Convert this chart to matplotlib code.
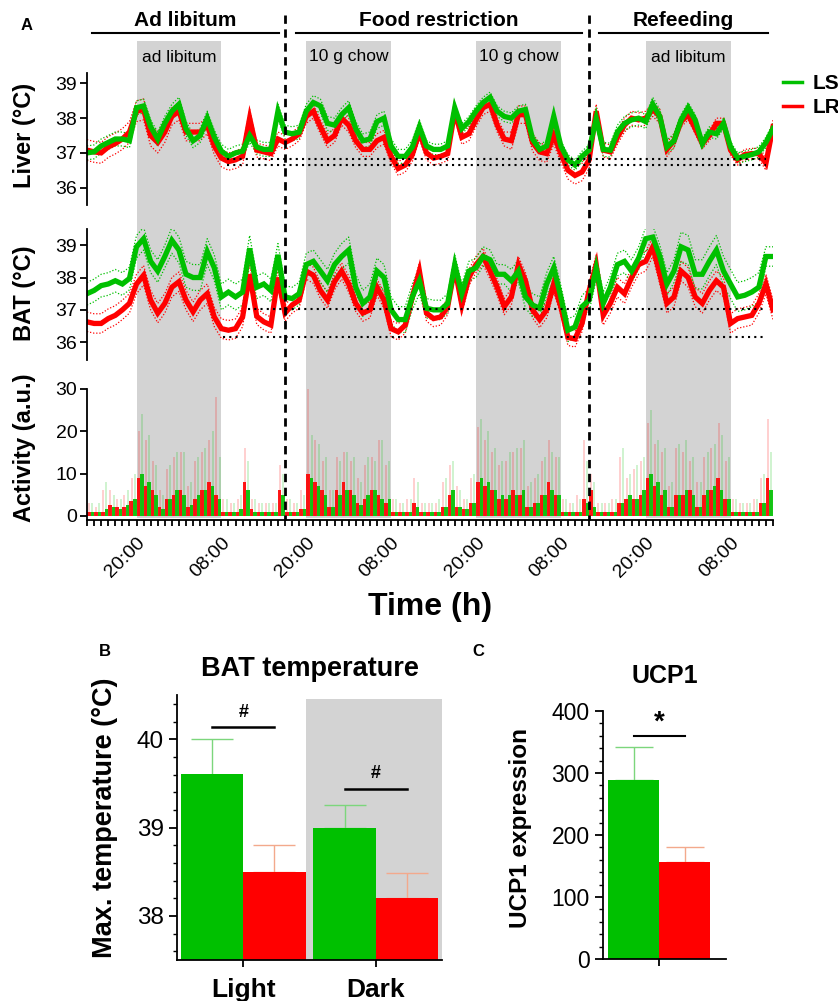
import numpy as np
import matplotlib
matplotlib.use('Agg')
import matplotlib.pyplot as plt
from matplotlib.ticker import MultipleLocator
from matplotlib.lines import Line2D

plt.rcParams['font.family'] = ['Liberation Sans', 'DejaVu Sans']

GREEN = '#00c000'
RED = '#ff0000'
GRAY = '#d3d3d3'
GREEN_ERR = '#7cd67c'
RED_ERR = '#f3a98c'

# ---------------- data: panel A (hourly, t=0 is 13:00 on day 1) ----------------
hours = np.arange(98)
liver_LS = [37.0, 37.03, 37.2, 37.3, 37.4, 37.4, 37.35, 38.3, 38.35, 37.75, 37.4, 37.85,
            38.2, 38.4, 37.7, 37.35, 37.5, 38.0, 37.45, 37.05, 36.9, 37.0, 37.05, 37.5,
            37.17, 37.1, 37.1, 38.2, 37.6, 37.55, 37.6, 38.2, 38.45, 38.35, 37.85, 37.8,
            38.1, 38.3, 37.7, 37.35, 37.4, 37.9, 38.0, 37.2, 36.9, 36.9, 37.17, 37.75,
            37.2, 37.1, 37.1, 37.2, 38.3, 37.7, 37.9, 38.2, 38.45, 38.6, 38.2, 38.05,
            38.0, 38.2, 38.25, 37.4, 37.1, 37.2, 38.05, 37.2, 36.8, 36.65, 36.9, 37.08,
            38.0, 37.1, 37.08, 37.6, 37.85, 37.95, 38.0, 37.9, 38.4, 38.05, 37.17, 37.35,
            37.95, 38.3, 37.95, 37.27, 37.6, 37.55, 37.85, 37.17, 36.85, 36.9, 36.95, 37.03,
            37.3, 37.7]
liver_LR = [37.08, 37.03, 37.0, 37.17, 37.27, 37.4, 37.6, 38.2, 38.25, 37.5, 37.3, 37.6,
            38.05, 38.2, 37.6, 37.6, 37.6, 37.8, 37.2, 36.85, 36.75, 36.8, 36.9, 38.0,
            37.08, 37.03, 36.98, 37.4, 37.3, 37.4, 37.55, 38.05, 38.2, 37.75, 37.35, 37.5,
            38.0, 37.8, 37.35, 37.1, 37.1, 37.35, 37.45, 36.9, 36.55, 36.65, 36.95, 37.6,
            37.0, 36.85, 36.9, 36.98, 38.2, 37.45, 37.55, 37.95, 38.3, 38.4, 37.8, 37.4,
            37.35, 38.1, 38.1, 37.3, 37.03, 36.98, 37.5, 36.98, 36.5, 36.35, 36.45, 36.8,
            38.2, 37.08, 37.03, 37.45, 37.8, 38.0, 37.95, 38.0, 38.25, 38.05, 37.1, 37.35,
            37.9, 38.1, 37.7, 37.27, 37.5, 37.85, 37.85, 37.08, 36.8, 36.95, 36.98, 36.98,
            36.7, 37.75]
bat_LS = [37.5, 37.6, 37.75, 37.8, 37.9, 37.8, 37.97, 38.95, 39.2, 38.5, 38.2, 38.65,
          39.15, 38.85, 38.1, 38.0, 38.0, 38.8, 38.3, 37.4, 37.55, 37.4, 37.55, 38.9,
          37.7, 37.8, 37.6, 38.7, 37.4, 37.35, 37.5, 38.4, 38.5, 38.2, 37.9, 38.4,
          38.65, 38.85, 37.7, 37.2, 37.4, 38.2, 38.0, 37.0, 36.7, 36.7, 37.4, 37.9,
          37.05, 37.0, 37.0, 37.2, 38.4, 37.5, 38.2, 38.3, 38.65, 38.55, 38.1, 38.1,
          37.9, 38.2, 37.4, 37.15, 37.05, 37.8, 38.3, 37.4, 36.37, 36.47, 37.1, 37.3,
          38.3, 37.2, 37.7, 38.4, 38.5, 38.2, 38.6, 39.2, 39.25, 38.65, 37.8, 38.2,
          38.95, 38.85, 38.1, 38.1, 38.5, 38.85, 38.2, 37.8, 37.4, 37.45, 37.55, 37.7,
          38.65, 38.65]
bat_LR = [36.63, 36.58, 36.58, 36.73, 36.83, 37.0, 37.2, 37.8, 38.07, 37.3, 36.9, 37.2,
          37.7, 37.87, 37.3, 36.94, 37.3, 37.5, 36.78, 36.42, 36.37, 36.42, 36.78, 38.1,
          36.8, 36.63, 36.53, 38.0, 36.9, 37.15, 37.3, 38.2, 38.07, 37.6, 37.3, 37.87,
          38.2, 37.8, 37.2, 36.9, 37.0, 37.7, 37.3, 36.42, 36.32, 36.53, 37.4, 38.2,
          36.9, 36.73, 36.78, 37.1, 38.3, 37.15, 38.0, 38.4, 38.65, 38.2, 37.7, 37.1,
          37.4, 38.4, 37.9, 37.0, 36.7, 37.0, 37.8, 37.1, 36.15, 36.1, 36.58, 37.6,
          38.4, 36.83, 37.2, 37.7, 37.5, 38.0, 38.4, 38.5, 38.95, 38.1, 37.2, 37.4,
          38.2, 38.0, 37.4, 37.2, 37.6, 37.9, 37.7, 36.58, 36.73, 36.78, 36.83, 37.2,
          37.8, 37.0]
# SEM read per 12-hour block
liver_LS_sem = [0.2, 0.2, 0.2, 0.2, 0.15, 0.15, 0.2, 0.15, 0.15]
liver_LR_sem = [0.3, 0.25, 0.2, 0.2, 0.2, 0.25, 0.2, 0.15, 0.2]
bat_LS_sem = [0.35, 0.4, 0.35, 0.4, 0.3, 0.35, 0.35, 0.45, 0.3]
bat_LR_sem = [0.3, 0.3, 0.25, 0.25, 0.25, 0.25, 0.3, 0.3, 0.3]

liver_ref = [36.83, 36.66]
liver_ref_start = [19.8, 19.8]
bat_ref = [37.03, 36.15]
bat_ref_start = [22.7, 19.2]
ref_end = 96.0

act_hours = np.arange(97)
act_LS = [1, 1, 1.5, 2, 1.5, 2.5, 4, 10, 8, 5, 1.5, 4, 6, 5, 2.5, 5, 6, 7, 4, 1, 1, 1.5, 6, 1,
          1, 1, 1, 5, 1, 1, 1.5, 9, 7, 5, 2, 5, 6, 5, 2.5, 5, 6, 4, 4, 1, 1, 1, 2, 1,
          1, 1, 2, 6, 2, 1.5, 3, 9, 8, 6, 5, 5, 5, 6, 2, 3, 5, 6, 5, 1, 1, 1, 3, 2,
          1, 1, 1, 3, 5, 4, 6, 10, 8, 6, 2, 5, 6, 5, 2, 6, 7, 6, 4, 1, 1, 1, 1, 3, 6]
act_LR = [1, 1, 1, 2.5, 2, 2, 3.5, 9, 7, 6, 2, 4, 5, 6, 2, 4, 6, 8, 5, 1, 1, 1, 8, 1.5,
          1, 1, 1, 6, 1, 1, 1.5, 10, 8, 6, 2, 6, 8, 6, 3, 4, 6, 5, 3, 1, 1, 1, 3, 1,
          1, 1, 2, 5, 2, 1.5, 3, 8, 7, 6, 4, 4, 6, 5, 2, 3, 5, 8, 5, 1, 1, 1, 4, 6,
          1, 1, 1, 3, 4, 4, 5, 9, 7, 5, 2, 5, 5, 6, 2, 5, 6, 9, 4, 1, 1, 1, 1, 3, 9]
act_LS_peak = [3, 3, 8, 5, 4, 6, 10, 24, 19, 12, 5, 12, 15, 15, 8, 14, 16, 20, 14, 4, 3, 5, 13, 4,
               3, 3, 3, 10, 4, 3, 5, 19, 17, 14, 6, 13, 15, 14, 8, 14, 13, 18, 13, 4, 3, 4, 8, 3,
               3, 4, 9, 13, 6, 4, 10, 23, 20, 16, 13, 15, 16, 18, 8, 10, 14, 15, 14, 4, 3, 4, 13, 8,
               3, 3, 4, 16, 10, 12, 14, 25, 18, 16, 8, 17, 18, 14, 8, 15, 17, 19, 14, 4, 3, 3, 4, 10, 15]
act_LR_peak = [3, 2, 6, 6, 4, 5, 9, 20, 18, 13, 6, 11, 14, 15, 7, 13, 15, 18, 28, 4, 3, 4, 16, 4,
               3, 3, 3, 12, 4, 3, 6, 30, 18, 13, 6, 14, 15, 13, 9, 12, 14, 18, 12, 4, 3, 4, 9, 3,
               3, 3, 8, 12, 7, 4, 9, 21, 18, 15, 12, 13, 15, 16, 7, 9, 13, 18, 14, 4, 3, 5, 18, 10,
               3, 3, 4, 14, 9, 11, 13, 22, 17, 15, 7, 16, 15, 13, 8, 14, 16, 22, 13, 4, 3, 3, 4, 9, 23]

dark_start = [7, 31, 55, 79]
dark_len = 12
dark_labels = ['ad libitum', '10 g chow', '10 g chow', 'ad libitum']
phase_bounds = [28, 71]
phase_names = ['Ad libitum', 'Food restriction', 'Refeeding']
phase_spans = [(0.7, 27.1), (29.6, 70.0), (72.4, 96.3)]
time_ticks = [7, 19, 31, 43, 55, 67, 79, 91]
time_labels = ['20:00', '08:00'] * 4

# ---------------- data: panels B and C ----------------
bat_periods = ['Light', 'Dark']
bat_max_LS = [39.6, 39.0]
bat_max_LS_err = [0.4, 0.25]
bat_max_LR = [38.5, 38.2]
bat_max_LR_err = [0.3, 0.28]
ucp1_LS = 288
ucp1_LS_err = 54
ucp1_LR = 156
ucp1_LR_err = 25

# ---------------- figure ----------------
W, H = 838, 1001
fig = plt.figure(figsize=(W / 100, H / 100), dpi=100)


def fax(x0, y0, x1, y1, **kw):
    """axes from pixel box (top-left origin)"""
    return fig.add_axes([x0 / W, 1 - y1 / H, (x1 - x0) / W, (y1 - y0) / H], **kw)


XL, XR = 87, 773
TMAX = 97

# background (gray dark-phase bands)
bg = fax(XL, 0, XR, 525)
bg.set_xlim(0, TMAX)
bg.set_ylim(525, 0)
bg.axis('off')
bg.set_zorder(0)
bg.bar(dark_start, 477, bottom=41, width=dark_len, align='edge', color=GRAY, lw=0)
for s, lab in zip(dark_start, dark_labels):
    bg.text(s + dark_len / 2, 57, lab, ha='center', va='center', fontsize=12.5)


def style_temp(ax, ylim, yticks):
    ax.set_xlim(0, TMAX)
    ax.set_ylim(*ylim)
    ax.set_yticks(yticks)
    ax.patch.set_alpha(0)
    for s in ['top', 'right', 'bottom']:
        ax.spines[s].set_visible(False)
    ax.spines['left'].set_linewidth(1.3)
    ax.set_xticks([])
    ax.tick_params(axis='y', labelsize=14, length=5, width=1.3, pad=2)


def sem_of(blocks):
    return np.repeat(blocks, 12)[:len(hours)]


def draw_temp(ax, ls, lr, ls_sem, lr_sem):
    for mean, sem, c in [(lr, lr_sem, RED), (ls, ls_sem, GREEN)]:
        mean = np.asarray(mean)
        s = sem_of(sem)
        ax.plot(hours, mean + s, ls=(0, (1, 1.5)), color=c, lw=0.9)
        ax.plot(hours, mean - s, ls=(0, (1, 1.5)), color=c, lw=0.9)
    for mean, c in [(lr, RED), (ls, GREEN)]:
        ax.plot(hours, mean, color=c, lw=3.8, solid_joinstyle='miter')


ax_l = fax(XL, 73, XR, 205)
ax_l.set_zorder(1)
style_temp(ax_l, (35.5, 39.3), [36, 37, 38, 39])
draw_temp(ax_l, liver_LS, liver_LR, liver_LS_sem, liver_LR_sem)
for v, st in zip(liver_ref, liver_ref_start):
    ax_l.plot([st, ref_end], [v, v], color='black', ls=(0, (1, 2)), lw=1.5)

ax_b = fax(XL, 229, XR, 360)
ax_b.set_zorder(1)
style_temp(ax_b, (35.45, 39.5), [36, 37, 38, 39])
draw_temp(ax_b, bat_LS, bat_LR, bat_LS_sem, bat_LR_sem)
for v, st in zip(bat_ref, bat_ref_start):
    ax_b.plot([st, ref_end], [v, v], color='black', ls=(0, (1, 2)), lw=1.5)

ax_a = fax(XL, 389, XR, 520)
ax_a.set_zorder(1)
ax_a.patch.set_alpha(0)
ax_a.set_xlim(0, TMAX)
ax_a.set_ylim(-1, 30)
ax_a.set_yticks([0, 10, 20, 30])
for s in ['top', 'right']:
    ax_a.spines[s].set_visible(False)
for s in ['left', 'bottom']:
    ax_a.spines[s].set_linewidth(1.3)
# faint spikes (peak activity) then interleaved hourly means
ax_a.vlines(act_hours + 0.3, 0, act_LR_peak, color=RED, alpha=0.22, lw=1.2)
ax_a.vlines(act_hours + 0.75, 0, act_LS_peak, color=GREEN, alpha=0.22, lw=1.2)
ax_a.bar(act_hours, act_LR, width=0.5, align='edge', color=RED, alpha=0.9, lw=0)
ax_a.bar(act_hours + 0.5, act_LS, width=0.5, align='edge', color=GREEN, alpha=0.9, lw=0)
ax_a.set_xticks(time_ticks)
ax_a.set_xticklabels(time_labels, rotation=45, ha='right', va='top',
                     rotation_mode='anchor', fontsize=14)
ax_a.xaxis.set_minor_locator(MultipleLocator(1))
ax_a.tick_params(axis='x', which='both', length=4, width=1.3, pad=6)
ax_a.tick_params(axis='y', labelsize=14, length=5, width=1.3, pad=2)

# overlay (dashed phase lines and phase headers)
ov = fax(XL, 0, XR, 525)
ov.set_xlim(0, TMAX)
ov.set_ylim(525, 0)
ov.axis('off')
ov.set_zorder(3)
ov.vlines(phase_bounds, 15, 520, colors='black', linestyles=(0, (3, 2)), lw=2)
for name, (a, b) in zip(phase_names, phase_spans):
    ov.plot([a, b], [33, 33], color='black', lw=1.5)
    ov.text((a + b) / 2, 20, name, ha='center', va='center', fontsize=15, fontweight='bold')

fig.text(27 / W, 1 - 26 / H, 'A', ha='center', va='center', fontsize=12, fontweight='bold')
fig.text(25 / W, 1 - 135 / H, 'Liver (°C)', rotation=90, ha='center', va='center',
         fontsize=17, fontweight='bold')
fig.text(25 / W, 1 - 293 / H, 'BAT (°C)', rotation=90, ha='center', va='center',
         fontsize=17, fontweight='bold')
fig.text(25 / W, 1 - 448 / H, 'Activity (a.u.)', rotation=90, ha='center', va='center',
         fontsize=17, fontweight='bold')
fig.text(430 / W, 1 - 607 / H, 'Time (h)', ha='center', va='center',
         fontsize=23, fontweight='bold')

handles = [Line2D([], [], color=GREEN, lw=2.5), Line2D([], [], color=RED, lw=2.5)]
fig.legend(handles, ['LS', 'LR'], loc='upper left', bbox_to_anchor=(783 / W, 1 - 74 / H),
           frameon=False, handlelength=0.9, handletextpad=0.5, labelspacing=0.25,
           prop={'weight': 'bold', 'size': 15}, borderpad=0, borderaxespad=0)

# ---------------- panel B ----------------
axB = fax(177, 695, 442, 960)
xb = np.arange(len(bat_periods))
bw = 0.47
axB.set_xlim(-0.5, 1.5)
axB.set_ylim(37.5, 40.5)
axB.axvspan(0.47, 1.5, ymax=0.985, color=GRAY, lw=0, zorder=0)
axB.bar(xb - bw / 2, np.array(bat_max_LS) - 37.5, bottom=37.5, width=bw, color=GREEN, zorder=2)
axB.bar(xb + bw / 2, np.array(bat_max_LR) - 37.5, bottom=37.5, width=bw, color=RED, zorder=2)
axB.errorbar(xb - bw / 2, bat_max_LS, yerr=[np.zeros(2), bat_max_LS_err], fmt='none',
             ecolor=GREEN_ERR, elinewidth=1, capsize=15, capthick=1, zorder=1)
axB.errorbar(xb + bw / 2, bat_max_LR, yerr=[np.zeros(2), bat_max_LR_err], fmt='none',
             ecolor=RED_ERR, elinewidth=1, capsize=15, capthick=1, zorder=1)
for i, (yl, yt) in enumerate([(40.14, 40.3), (39.44, 39.61)]):
    axB.plot([i - bw / 2, i + bw / 2], [yl, yl], color='black', lw=1.8)
    axB.text(i, yt, '#', ha='center', va='center', fontsize=13, fontweight='bold')
axB.set_xticks(xb)
axB.set_xticklabels(bat_periods, fontsize=19, fontweight='bold')
axB.set_yticks([38, 39, 40])
axB.yaxis.set_minor_locator(MultipleLocator(0.2))
for s in ['top', 'right']:
    axB.spines[s].set_visible(False)
for s in ['left', 'bottom']:
    axB.spines[s].set_linewidth(1.3)
axB.tick_params(axis='y', which='major', labelsize=17.5, length=6, width=1.3)
axB.tick_params(axis='y', which='minor', length=3, width=1)
axB.tick_params(axis='x', length=5, width=1.3, pad=8)
axB.set_title('BAT temperature', fontsize=19.5, fontweight='bold', pad=14)
fig.text(105 / W, 1 - 818 / H, 'Max. temperature (°C)', rotation=90, ha='center', va='center',
         fontsize=19.5, fontweight='bold')
fig.text(105 / W, 1 - 652 / H, 'B', ha='center', va='center', fontsize=12, fontweight='bold')

# ---------------- panel C ----------------
axC = fax(603, 711, 726, 959)
cw = 0.4
axC.set_xlim(-0.44, 0.525)
axC.set_ylim(0, 400)
axC.bar([-cw / 2], [ucp1_LS], width=cw, color=GREEN, zorder=2)
axC.bar([cw / 2], [ucp1_LR], width=cw, color=RED, zorder=2)
axC.errorbar([-cw / 2], [ucp1_LS], yerr=[[0], [ucp1_LS_err]], fmt='none', ecolor=GREEN_ERR,
             elinewidth=1, capsize=14, capthick=1, zorder=1)
axC.errorbar([cw / 2], [ucp1_LR], yerr=[[0], [ucp1_LR_err]], fmt='none', ecolor=RED_ERR,
             elinewidth=1, capsize=14, capthick=1, zorder=1)
axC.plot([-cw / 2, cw / 2], [360, 360], color='black', lw=1.5)
axC.text(0, 382, '*', ha='center', va='center', fontsize=20, fontweight='bold')
axC.set_xticks([0])
axC.set_xticklabels([''])
axC.set_yticks([0, 100, 200, 300, 400])
axC.yaxis.set_minor_locator(MultipleLocator(20))
for s in ['top', 'right']:
    axC.spines[s].set_visible(False)
for s in ['left', 'bottom']:
    axC.spines[s].set_linewidth(1.3)
axC.tick_params(axis='y', which='major', labelsize=16.5, length=6, width=1.3)
axC.tick_params(axis='y', which='minor', length=3, width=1)
axC.tick_params(axis='x', length=5, width=1.3)
axC.set_title('UCP1', fontsize=18, fontweight='bold', pad=20)
fig.text(520 / W, 1 - 828 / H, 'UCP1 expression', rotation=90, ha='center', va='center',
         fontsize=17.5, fontweight='bold')
fig.text(478 / W, 1 - 652 / H, 'C', ha='center', va='center', fontsize=12, fontweight='bold')

fig.savefig('out.png', dpi=100)
